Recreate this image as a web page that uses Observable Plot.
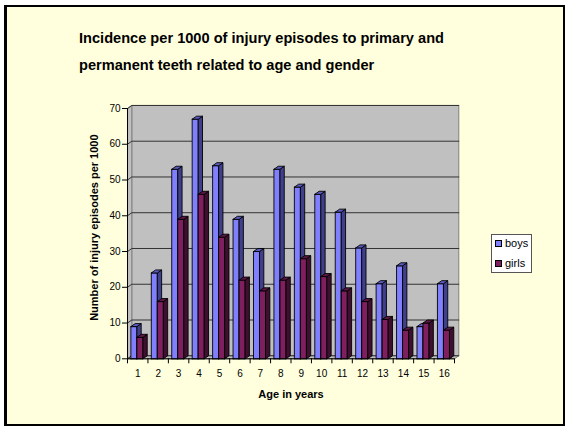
<!DOCTYPE html>
<html><head><meta charset="utf-8">
<script src="https://cdn.jsdelivr.net/npm/d3@7"></script>
<script src="https://cdn.jsdelivr.net/npm/@observablehq/plot@0.6"></script>
<style>
html,body{margin:0;padding:0;background:#fff;}
#page{position:relative;width:565px;height:426px;overflow:hidden;font-family:"Liberation Sans",Arial,sans-serif;color:#000;}
#frame{position:absolute;left:4px;top:5px;right:0;bottom:0;background:#FFFFDD;border:solid #000;border-width:2.5px 2px 2px 3px;box-sizing:border-box;}
#chart{position:absolute;left:0;top:0;}
#title{position:absolute;left:79px;top:25px;font-weight:bold;font-size:14.6px;line-height:27px;white-space:nowrap;}
#legend{position:absolute;left:491px;top:234px;width:41px;height:39px;background:#fff;border:1px solid #555;box-sizing:border-box;font-size:11px;}
#legend div{position:absolute;left:3px;display:flex;align-items:center;gap:3px;height:12px;white-space:nowrap;}
#legend i{display:block;width:5px;height:5px;border:1px solid #000;}
</style></head><body>
<div id="page"><div id="frame"></div><div id="chart"></div>
<div id="title">Incidence per 1000 of injury episodes to primary and<br>permanent teeth related to age and gender</div>
<div id="legend"><div style="top:2px"><i style="background:#8080FF"></i>boys</div><div style="top:22px"><i style="background:#7F1F5F"></i>girls</div></div>
</div>
<script>
const ages = [1,2,3,4,5,6,7,8,9,10,11,12,13,14,15,16];
const boys = [9,24,53,67,54,39,30,53,48,46,41,31,21,26,9,21];
const girls = [6,16,39,46,34,22,19,22,28,23,19,16,11,8,10,8];
const yTicks = [0,10,20,30,40,50,60,70];

// Oblique depth and bar geometry, in data units of the x and y scales
const depthX = 0.21, depthY = 0.85, barW = 0.295, barStart = 0.165;

const faceNames = ["boys front","boys top","boys side","girls front","girls top","girls side"];
const faceColors = ["#8080FF","#5A5AC0","#3F3F8C","#7F1F5F","#5E1747","#3F0F2F"];

const polys = [];
function poly(id, face, pts){ for (const [x,y] of [...pts, pts[0]]) polys.push({id, face, x, y}); }
ages.forEach((a,i) => {
  [["boys",boys[i],0],["girls",girls[i],1]].forEach(([s,v,k]) => {
    const x0 = i + barStart + k*barW, x1 = x0 + barW, id = s + a;
    poly(id+"f", s+" front", [[x0,0],[x1,0],[x1,v],[x0,v]]);
    poly(id+"s", s+" side", [[x1,0],[x1+depthX,depthY],[x1+depthX,v+depthY],[x1,v]]);
    poly(id+"t", s+" top", [[x0,v],[x1,v],[x1+depthX,v+depthY],[x0+depthX,v+depthY]]);
  });
});
const xMax = ages.length;
const wall = [[depthX,depthY],[xMax+depthX,depthY],[xMax+depthX,70+depthY],[depthX,70+depthY]];
const side = [[0,0],[depthX,depthY],[depthX,70+depthY],[0,70]];
const floor = [[0,0],[xMax,0],[xMax+depthX,depthY],[depthX,depthY]];
const grid = yTicks.flatMap(v => [{v,x:0,y:v},{v,x:depthX,y:v+depthY},{v,x:xMax+depthX,y:v+depthY}]);
const pts = a => [...a, a[0]].map(([x,y]) => ({x,y}));

const svg = Plot.plot({
  width:565, height:426,
  marginLeft:127, marginRight:111, marginTop:108, marginBottom:67.7,
  style:{background:"transparent",fontFamily:"'Liberation Sans',Arial,sans-serif",fontSize:"10px",color:"#000"},
  x:{type:"linear",domain:[0,xMax]},
  y:{type:"linear",domain:[0,70]},
  color:{type:"ordinal",domain:faceNames,range:faceColors},
  marks:[
    Plot.line(pts(wall),{x:"x",y:"y",fill:"#C0C0C0",stroke:"#808080",strokeWidth:1}),
    Plot.line(pts(side),{x:"x",y:"y",fill:"#C0C0C0",stroke:"#808080",strokeWidth:1}),
    Plot.line(pts(floor),{x:"x",y:"y",fill:"#C0C0C0",stroke:"#808080",strokeWidth:1}),
    Plot.line(grid,{x:"x",y:"y",z:"v",stroke:"#333",strokeWidth:1}),
    Plot.line(polys,{x:"x",y:"y",z:"id",fill:"face",stroke:"#000",strokeWidth:0.9,strokeLinejoin:"round"}),
    Plot.ruleY([0],{stroke:"#000",strokeWidth:1}),
    Plot.ruleX([0],{stroke:"#000",strokeWidth:1}),
    Plot.axisY({ticks:yTicks,tickSize:5,tickPadding:2,label:"Number of injury episodes per 1000",labelAnchor:"center",labelArrow:"none",labelOffset:37,fontSize:10}),
    Plot.axisX({ticks:d3.range(0,xMax+1),tickSize:5,tickFormat:()=>"",label:null}),
    Plot.axisX({ticks:ages.map(a=>a-0.5),tickSize:0,tickPadding:11,tickFormat:d=>String(d+0.5),label:"Age in years",labelAnchor:"center",labelArrow:"none",labelOffset:39,fontSize:10})
  ]
});
svg.querySelectorAll('g[aria-label$="axis label"]').forEach(n=>{n.style.fontWeight="bold";n.style.fontSize="11px";});
svg.querySelectorAll('g[aria-label="y-axis label"]').forEach(n=>{n.setAttribute("transform",(n.getAttribute("transform")||"")+" translate(0,-6)");});
document.getElementById("chart").append(svg);
</script></body></html>
